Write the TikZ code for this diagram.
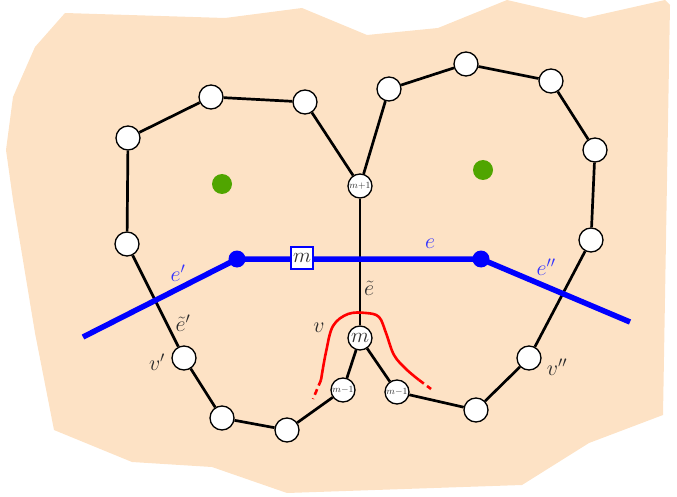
\RequirePackage{fix-cm}
\documentclass[tikz,border=0pt]{standalone}
\usepackage{amsmath}
\pgfdeclarelayer{bg}
\pgfdeclarelayer{edges}
\pgfsetlayers{bg,edges,main}
\definecolor{peach}{RGB}{253,226,197}
\definecolor{lblue}{RGB}{50,50,255}
\definecolor{dgreen}{RGB}{80,165,0}
\definecolor{txt}{RGB}{45,45,45}
\begin{document}
\begin{tikzpicture}[x=1pt,y=-1pt,
  vtx/.style={circle,draw=black,fill=white,line width=1.3pt,minimum size=24pt,inner sep=0pt,text=txt},
  small/.style={font=\fontsize{9.5}{10}\selectfont},
  edge/.style={line width=2.7pt,black},
  bluel/.style={line width=5.5pt,blue},
  lab/.style={font=\fontsize{22}{24}\selectfont,text=txt,inner sep=0pt},
  blab/.style={font=\fontsize{22}{24}\selectfont,text=lblue,inner sep=0pt},
  bdot/.style={circle,fill=blue,minimum size=17pt,inner sep=0pt},
  gdot/.style={circle,fill=dgreen,minimum size=20pt,inner sep=0pt}]
\useasboundingbox (0,0) rectangle (677,497);
\begin{pgfonlayer}{bg}
\fill[peach] (65,13) -- (225,18) -- (302,8) -- (367,35) -- (438,28) -- (507,0) -- (585,18) -- (665,0) -- (670,5) -- (663,415) -- (589,443) -- (522,485) -- (287,493) -- (212,467) -- (132,462) -- (54,430) -- (35,333) -- (13,200) -- (6,150) -- (13,97) -- (35,47) -- cycle;
\end{pgfonlayer}
% vertices
\node[vtx] (a1) at (127,244) {};
\node[vtx] (a2) at (128,138) {};
\node[vtx] (a3) at (211,97) {};
\node[vtx] (a4) at (305,102) {};
\node[vtx,small] (mp) at (360,186) {$m{+}1$};
\node[vtx] (b1) at (389,89) {};
\node[vtx] (b2) at (466,64) {};
\node[vtx] (b3) at (551,81) {};
\node[vtx] (b4) at (595,150) {};
\node[vtx] (b5) at (591,240) {};
\node[vtx] (vpp) at (529,358) {};
\node[vtx] (b7) at (476,410) {};
\node[vtx,small] (mr) at (397,392) {$m{-}1$};
\node[vtx,font=\fontsize{21}{22}\selectfont] (m) at (360,338) {$m$};
\node[vtx,small] (ml) at (343,390) {$m{-}1$};
\node[vtx] (c1) at (287,430) {};
\node[vtx] (c2) at (222,418) {};
\node[vtx] (vp) at (184,358) {};
% green dots
\node[gdot] (g1) at (222,184) {};
\node[gdot] (g2) at (483,170) {};
% blue
\node[bdot] (d1) at (237,259) {};
\node[bdot] (d2) at (481,259) {};
\node[draw=blue,fill=white,line width=2pt,minimum size=22pt,inner sep=0pt,text=txt,font=\fontsize{21}{22}\selectfont] (sq) at (302,258) {$m$};
\coordinate (bl) at (83,337);
\coordinate (br) at (630,322);
\begin{pgfonlayer}{edges}
\draw[edge] (a1) -- (a2) -- (a3) -- (a4) -- (mp) -- (b1) -- (b2) -- (b3) -- (b4) -- (b5) -- (vpp) -- (b7) -- (mr) -- (m) -- (ml) -- (c1) -- (c2) -- (vp) -- (a1);
\draw[edge,line width=2pt] (mp) -- (m);
\draw[bluel] (bl) -- (d1.center) -- (d2.center) -- (br);
\draw[red,line width=2.6pt] plot[smooth,tension=0.6] coordinates {(321,380) (326,352) (333,326) (348,314) (366,313) (379,317) (386,333) (394,355) (406,369) (419,380)};
\draw[red,line width=2.6pt,dash pattern=on 6pt off 4pt] (321,380) -- (313,399);
\draw[red,line width=2.6pt,dash pattern=on 6pt off 4pt] (419,380) -- (431,389);
\end{pgfonlayer}
% labels
\node[blab] (le) at (430,244) {$e$};
\node[blab] (lep) at (178,273) {$e'$};
\node[blab] (lepp) at (546,267) {$e''$};
\node[lab] (lt) at (369,288) {$\tilde e$};
\node[lab] (ltp) at (183,323) {$\tilde e'$};
\node[lab] (lvp) at (157,362) {$v'$};
\node[lab] (lvpp) at (557,367) {$v''$};
\node[lab] (lv) at (319,328) {$v$};
\end{tikzpicture}
\end{document}
